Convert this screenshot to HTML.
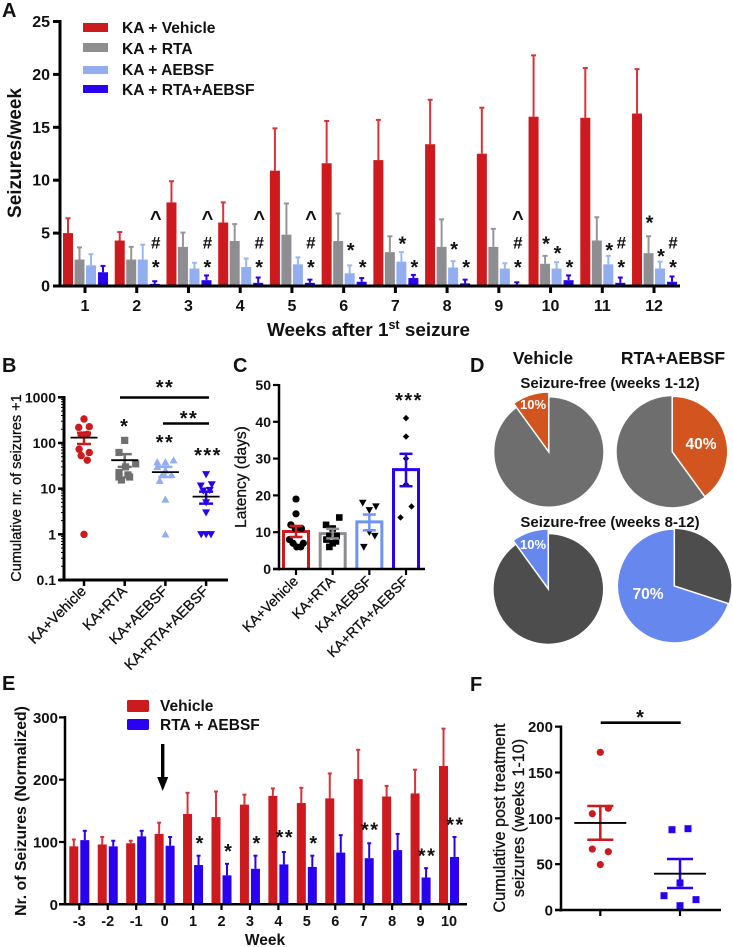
<!DOCTYPE html>
<html lang="en">
<head>
<meta charset="utf-8">
<title>Seizure figure panels</title>
<style>
html,body{margin:0;padding:0;background:#fff;}
svg{display:block;font-family:"Liberation Sans",Arial,sans-serif;}
text{fill:#111;}
.b{font-weight:bold;}
.m{stroke:#111;stroke-width:0.3;}
</style>
</head>
<body>
<svg id="fig" xmlns="http://www.w3.org/2000/svg" width="733" height="947" viewBox="0 0 733 947">
  <rect x="0" y="0" width="733" height="947" fill="#fff"/>
  <text class="b" x="2" y="17" font-size="20">A</text>
  <text class="b" x="2" y="372" font-size="20">B</text>
  <text class="b" x="233" y="372" font-size="20">C</text>
  <text class="b" x="470" y="372" font-size="20">D</text>
  <text class="b" x="2" y="690" font-size="20">E</text>
  <text class="b" x="470" y="691" font-size="20">F</text>

  <text class="b" transform="translate(21,153) rotate(-90)" text-anchor="middle" font-size="19">Seizures/week</text>
  <text class="b" x="267" y="336" font-size="18.9">Weeks after 1<tspan dy="-7" font-size="12.5">st</tspan><tspan dy="7"> seizure</tspan></text>

  <rect x="83" y="23" width="25" height="9" fill="#cc1a1e"/>
  <rect x="83" y="43" width="25" height="9" fill="#8e8e92"/>
  <rect x="83" y="66" width="25" height="8" fill="#92aef0"/>
  <rect x="83" y="85" width="25" height="8" fill="#2a00f0"/>
  <text class="b" x="122" y="33" font-size="15.6">KA + Vehicle</text>
  <text class="b" x="122" y="54" font-size="15.6">KA + RTA</text>
  <text class="b" x="122" y="75" font-size="15.6">KA + AEBSF</text>
  <text class="b" x="122" y="95" font-size="15.6">KA + RTA+AEBSF</text>

  <text class="m" transform="translate(21,488) rotate(-90)" text-anchor="middle" font-size="14.5">Cumulative nr. of seizures +1</text>
  <text class="m" transform="translate(246,477) rotate(-90)" text-anchor="middle" font-size="15.5">Latency (days)</text>

  <text class="b" x="543" y="364" text-anchor="middle" font-size="17.5">Vehicle</text>
  <text class="b" x="673" y="364" text-anchor="middle" font-size="17.5">RTA+AEBSF</text>
  <text class="b" x="610" y="388" text-anchor="middle" font-size="15">Seizure-free (weeks 1-12)</text>
  <text class="b" x="610" y="527" text-anchor="middle" font-size="15">Seizure-free (weeks 8-12)</text>

  <rect x="127" y="700" width="22" height="12" rx="1.5" fill="#cc1a1e"/>
  <rect x="127" y="719" width="22" height="11" rx="1.5" fill="#2a00f0"/>
  <text class="b" x="160" y="711" font-size="15.5">Vehicle</text>
  <text class="b" x="160" y="730" font-size="15.5">RTA + AEBSF</text>
  <g>
    <rect x="161" y="744" width="3.4" height="35" fill="#000"/>
    <polygon points="157.2,777 168.2,777 162.7,791" fill="#000"/>
  </g>
  <text class="b" transform="translate(26,811) rotate(-90)" text-anchor="middle" font-size="15.8">Nr. of Seizures (Normalized)</text>
  <text class="b" x="265" y="945" text-anchor="middle" font-size="15.5">Week</text>

  <text class="m" transform="translate(505,818) rotate(-90)" text-anchor="middle" font-size="16.2">Cumulative post treatment</text>
  <text class="m" transform="translate(524,818) rotate(-90)" text-anchor="middle" font-size="16.2">seizures (weeks 1-10)</text>
</svg>
<script>
// ---------- Panel A data ----------
const weeksA = ['1','2','3','4','5','6','7','8','9','10','11','12'];
const ticksA = [0,5,10,15,20,25];
const vehicleA = [5.0,4.3,7.9,6.0,10.9,11.6,11.9,13.4,12.5,16.0,15.9,16.3];
const vehicleTopA = [6.4,5.1,9.9,7.9,14.9,15.6,15.7,17.6,16.85,21.8,20.6,20.5];
const rtaA = [2.5,2.5,3.7,4.25,4.85,4.25,3.2,3.7,3.7,2.1,4.3,3.1];
const rtaTopA = [3.65,3.7,5.05,5.85,7.8,6.85,4.7,6.3,5.4,2.85,6.5,4.7];
const aebsfA = [1.95,2.5,1.65,1.8,2.05,1.2,2.3,1.75,1.65,1.65,2.05,1.65];
const aebsfTopA = [3.0,3.9,2.2,2.6,2.7,1.95,3.2,2.35,2.15,2.25,2.85,2.3];
const comboA = [1.3,0.2,0.55,0.3,0.3,0.4,0.75,0.25,0.15,0.55,0.3,0.4];
const comboTopA = [1.9,0.45,1.0,0.8,0.6,0.75,1.05,0.6,0.35,1.0,0.8,0.9];
// week index, series index, symbol, level in y-axis units
const marksA = [
 [1,3,'*',2.08],[1,3,'#',4.35],[1,3,'^',6.7],
 [2,3,'*',2.08],[2,3,'#',4.35],[2,3,'^',6.7],
 [3,3,'*',2.08],[3,3,'#',4.35],[3,3,'^',6.7],
 [4,3,'*',2.08],[4,3,'#',4.35],[4,3,'^',6.7],
 [5,2,'*',3.7],[5,3,'*',2.08],
 [6,2,'*',4.3],[6,3,'*',2.08],
 [7,2,'*',3.8],[7,3,'*',2.08],
 [8,3,'*',2.08],[8,3,'#',4.35],[8,3,'^',6.7],
 [9,1,'*',4.3],[9,2,'*',3.4],[9,3,'*',2.08],
 [10,2,'*',3.7],[10,3,'*',2.08],[10,3,'#',4.35],
 [11,1,'*',6.3],[11,2,'*',3.1],[11,3,'*',2.08],[11,3,'#',4.35]
];

// ---------- Panel B data ----------
const groupsB = ['KA+Vehicle','KA+RTA','KA+AEBSF','KA+RTA+AEBSF'];
const ticksB = [0.1,1,10,100,1000];
const tickLabelsB = ['0.1','1','10','100','1000'];
const vehicleB = [335,220,228,150,155,150,73,62,53,42,1];
const vehicleJitterB = [0,-0.13,0.13,-0.07,0.08,0,-0.12,0.13,-0.07,0.08,0];
const rtaB = [114,62,35,22.5,30,18,18,15.5,20];
const rtaJitterB = [0,-0.14,0.27,-0.14,0.02,-0.14,0.12,-0.08,0.08];
const aebsfB = [42,38,38,30,25,20,20,15,5.8,1];
const aebsfJitterB = [0.2,0,-0.2,-0.2,0,0.15,-0.08,-0.14,0,0];
const comboB = [20.6,11.6,12.4,9.3,9,5,3,1,1,1];
const comboJitterB = [0,-0.13,0.14,0.09,-0.07,0,0,-0.12,0,0.12];
const meanB = [131,42,23,6.7];
const semHighB = [168,57,30,8.6];
const semLowB = [95,30,18,4.7];

// ---------- Panel C data ----------
const ticksC = [0,10,20,30,40,50];
const meanC = [10.2,9.6,12.8,27];
const semHighC = [11.7,10.9,14.8,31.3];
const semLowC = [8.7,8.3,10.5,22.5];
const vehicleC = [19,15,12,11,11,8,7,6,6,7];
const vehicleJitterC = [0,0,-0.14,0.15,-0.02,-0.18,-0.08,0.02,0.13,0.2];
const rtaC = [14,12,11,9,9,8,7.5,6,7,9];
const rtaJitterC = [0.18,-0.18,0,0.11,-0.09,-0.17,0.09,-0.09,0,0];
const aebsfC = [18,17,16,10,9,6];
const aebsfJitterC = [-0.18,0.18,0,0,0.15,-0.15];
const comboC = [41,36,30,23,17,14];
const comboJitterC = [0,0,0,0,0.15,-0.15];

// ---------- Panel D data ----------
const pieVehicle12 = [10,90];
const pieCombo12 = [40,60];
const pieVehicle8 = [10,90];
const pieCombo8 = [70,30];

// ---------- Panel E data ----------
const weeksE = ['-3','-2','-1','0','1','2','3','4','5','6','7','8','9','10'];
const ticksE = [0,100,200,300];
const vehicleE = [93,96,98,113,145,140,160,174,162.5,170,201,173,178,222];
const vehicleTopE = [104,108,102,131,179,181,176,186,187,210,248,190,216,282];
const comboE = [103,93,109,94,63,46.5,57,64,60,83,74,87,43,76];
const comboTopE = [118,102,118,108,78,65,78,84,78,111,98,113,58,108];
const starsE = [[4,'*',103],[5,'*',90],[6,'*',103],[7,'**',113],[8,'*',103],[10,'**',125],[12,'**',83],[13,'**',133]];

// ---------- Panel F data ----------
const ticksF = [0,50,100,150,200];
const vehicleF = [172,111,105,66.5,63.6,49.5];
const vehicleJitterF = [0,0.2,-0.2,-0.2,0.2,0];
const comboF = [87.6,88.7,29.5,15.6,11.3,4.7];
const comboJitterF = [-0.2,0.2,0,-0.4,0.4,0];
const meanF = [95,39.6];
const semHighF = [113.5,55.6];
const semLowF = [76.7,24];

// ---------- Shared helpers ----------
const NS = 'http://www.w3.org/2000/svg';
const fig = document.getElementById('fig');
const RED = '#cc1a1e', GRAY = '#8e8e92', LIGHT = '#92aef0', BLUE = '#2a00f0';
function mk(tag, attrs, parent) {
  const el = document.createElementNS(NS, tag);
  for (const k in attrs) el.setAttribute(k, attrs[k]);
  (parent || fig).appendChild(el);
  return el;
}
function group(name) {
  const g = mk('g', {});
  
  
  return g;
}
function line(p, x1, y1, x2, y2, color, w) {
  const el = mk('line', {x1, y1, x2, y2, stroke: color, 'stroke-width': w}, p);
  
  
  return el;
}
function label(p, x, y, str, size, anchor, bold, rot) {
  const a = {x, y, 'font-size': size, 'text-anchor': anchor};
  if (bold) a['font-weight'] = 'bold';
  else a['class'] = 'm';
  if (rot) { delete a.x; delete a.y; a.transform = 'translate(' + x + ',' + y + ') rotate(' + rot + ')'; }
  const el = mk('text', a, p);
  el.textContent = str;
  
  
  return el;
}
function symbolText(p, x, cy, str, size, spacing) {
  const a = {x, y: cy + size * 0.5, 'font-size': size, 'font-weight': 'bold', 'text-anchor': 'middle'};
  if (spacing) a['letter-spacing'] = spacing;
  const el = mk('text', a, p);
  el.textContent = str;
  
  
  return el;
}
function marker(p, kind, x, y, s, color) {
  let el;
  if (kind === 'circle') el = mk('circle', {cx: x, cy: y, r: s, fill: color}, p);
  else if (kind === 'square') el = mk('rect', {x: x - s, y: y - s, width: 2 * s, height: 2 * s, fill: color}, p);
  else if (kind === 'up') el = mk('polygon', {points: x + ',' + (y - s) + ' ' + (x + s) + ',' + (y + s * 0.8) + ' ' + (x - s) + ',' + (y + s * 0.8), fill: color}, p);
  else if (kind === 'down') el = mk('polygon', {points: (x - s) + ',' + (y - s * 0.8) + ' ' + (x + s) + ',' + (y - s * 0.8) + ' ' + x + ',' + (y + s), fill: color}, p);
  else el = mk('polygon', {points: x + ',' + (y - s) + ' ' + (x + s) + ',' + y + ' ' + x + ',' + (y + s) + ' ' + (x - s) + ',' + y, fill: color}, p);
  
  
  return el;
}
function bar(p, cx, w, yTop, yBase, color) {
  const el = mk('rect', {x: cx - w / 2, y: yTop, width: w, height: Math.max(0, yBase - yTop), fill: color}, p);
  
  
  return el;
}
function upperError(p, cx, yMean, yTop, color, w, capW) {
  line(p, cx, yMean, cx, yTop, color, w);
  line(p, cx - capW / 2, yTop, cx + capW / 2, yTop, color, 2);
}

// ---------- Panel A ----------
(function () {
  const g = group('panel-a-bar-chart');
  const y = v => 286 - v * 10.58;
  const x = i => 85 + i * 51.73;
  const offs = [-17, -5.5, 6, 18];
  const series = [[vehicleA, vehicleTopA, RED, '#d8333a'], [rtaA, rtaTopA, GRAY, '#96969a'], [aebsfA, aebsfTopA, LIGHT, '#9db7f2'], [comboA, comboTopA, BLUE, BLUE]];
  series.forEach(function (s, si) {
    weeksA.forEach(function (w, i) {
      const cx = x(i) + offs[si];
      upperError(g, cx, y(s[0][i]), y(s[1][i]), s[3], 2, 5);
      bar(g, cx, 10, y(s[0][i]), 286, s[2]);
    });
  });
  line(g, 60, 20, 60, 287.5, '#000', 3);
  line(g, 53, 286, 680, 286, '#000', 3);
  ticksA.forEach(function (t) {
    line(g, 53, y(t), 60, y(t), '#000', 3);
    label(g, 50, y(t) + 5.5, String(t), 16, 'end', true);
  });
  weeksA.forEach(function (w, i) {
    line(g, x(i), 286, x(i), 293, '#000', 3);
    label(g, x(i), 311, w, 16, 'middle', true);
  });
  marksA.forEach(function (m) {
    const cx = x(m[0]) + offs[m[1]] + 1;
    symbolText(g, cx, y(m[3]), m[2], m[2] === '#' ? 17 : 20);
  });
})();

// ---------- Panel B ----------
(function () {
  const g = group('panel-b-scatter-plot');
  const y = v => 580 - (Math.log10(v) + 1) * 45.67;
  const x = i => 84 + i * 40.7;
  line(g, 64, 396, 64, 581.5, '#000', 3);
  line(g, 59, 580, 228, 580, '#000', 3);
  ticksB.forEach(function (t, i) {
    line(g, 58, y(t), 64, y(t), '#000', 2.5);
    label(g, 56, y(t) + 5, tickLabelsB[i], 14, 'end', true);
    if (i < ticksB.length - 1) {
      [2, 3, 4, 5, 6, 7, 8, 9].forEach(function (m) {
        line(g, 61, y(t * m), 64, y(t * m), '#000', 1);
      });
    }
  });
  groupsB.forEach(function (n, i) {
    line(g, x(i), 580, x(i), 586, '#000', 2.5);
    label(g, x(i) + 3, 592, n, 14.5, 'end', false, -45);
  });
  const sets = [[vehicleB, vehicleJitterB, 'circle', RED, 3.7], [rtaB, rtaJitterB, 'square', '#6f6f6f', 3.6], [aebsfB, aebsfJitterB, 'up', LIGHT, 4], [comboB, comboJitterB, 'down', BLUE, 4]];
  const semColor = [RED, '#6f6f6f', LIGHT, BLUE];
  sets.forEach(function (s, i) {
    s[0].forEach(function (v, j) {
      marker(g, s[2], x(i) + s[1][j] * 40.7, y(v), s[4], s[3]);
    });
    line(g, x(i), y(semLowB[i]), x(i), y(semHighB[i]), semColor[i], 2.5);
    line(g, x(i) - 7, y(semHighB[i]), x(i) + 7, y(semHighB[i]), semColor[i], 2.5);
    line(g, x(i) - 7, y(semLowB[i]), x(i) + 7, y(semLowB[i]), semColor[i], 2.5);
    line(g, x(i) - 13.5, y(meanB[i]), x(i) + 13.5, y(meanB[i]), '#000', 1.8);
  });
  line(g, 120, 397.5, 209, 397.5, '#000', 2.6);
  line(g, 163, 423.5, 209, 423.5, '#000', 2.6);
  symbolText(g, 165, 384, '**', 20, 1.5);
  symbolText(g, 189, 415, '**', 20, 1.5);
  symbolText(g, 124, 423, '*', 20);
  symbolText(g, 165, 439, '**', 20, 1.5);
  symbolText(g, 208, 452, '***', 20, 1.5);
})();

// ---------- Panel C ----------
(function () {
  const g = group('panel-c-bar-scatter');
  const y = v => 569 - v * 3.68;
  const x = i => 296 + i * 36.67;
  const outline = [RED, '#8e8e92', '#6e93f5', BLUE];
  meanC.forEach(function (m, i) {
    const el = mk('path', {d: 'M' + (x(i) - 12.5) + ' 569V' + y(m) + 'H' + (x(i) + 12.5) + 'V569', fill: 'none', stroke: outline[i], 'stroke-width': 3}, g);
    
    
  });
  const sets = [[vehicleC, vehicleJitterC, 'circle', 3.6], [rtaC, rtaJitterC, 'square', 3.3], [aebsfC, aebsfJitterC, 'down', 3.8], [comboC, comboJitterC, 'diamond', 3.2]];
  sets.forEach(function (s, i) {
    s[0].forEach(function (v, j) {
      marker(g, s[2], x(i) + s[1][j] * 36.67, y(v), s[3], '#000');
    });
    line(g, x(i), y(semLowC[i]), x(i), y(semHighC[i]), outline[i], 2.5);
    line(g, x(i) - 6.5, y(semHighC[i]), x(i) + 6.5, y(semHighC[i]), outline[i], 2.5);
    line(g, x(i) - 6.5, y(semLowC[i]), x(i) + 6.5, y(semLowC[i]), outline[i], 2.5);
  });
  line(g, 279, 384, 279, 570.5, '#000', 2.5);
  line(g, 273, 569, 425, 569, '#000', 2.5);
  ticksC.forEach(function (t) {
    line(g, 273, y(t), 279, y(t), '#000', 2.2);
    label(g, 271, y(t) + 5, String(t), 14, 'end', true);
  });
  groupsB.forEach(function (n, i) {
    line(g, x(i), 569, x(i), 575, '#000', 2.2);
    label(g, x(i) + 3, 582, n, 14, 'end', false, -45);
  });
  symbolText(g, 409, 397, '***', 20, 1.5);
})();

// ---------- Panel D ----------
(function () {
  const ORANGE = '#d2541e', PBLUE = '#6688ee', G1 = '#6e6e6e', G2 = '#4d4d4d';
  const slice = function (name, cx, cy, r, values, dir, color) {
    const total = values[0] + values[1];
    const g = group(name);
    const sweep = values[0] / total * 360 * dir;
    const x1 = cx + r * Math.sin(sweep * Math.PI / 180), y1 = cy - r * Math.cos(sweep * Math.PI / 180);
    const big = values[0] / total > 0.5 ? 1 : 0;
    const el = mk('path', {d: 'M' + cx + ' ' + cy + 'L' + cx + ' ' + (cy - r) + 'A' + r + ' ' + r + ' 0 ' + big + ' ' + (dir > 0 ? 1 : 0) + ' ' + x1 + ' ' + y1 + 'Z', fill: color, stroke: '#fff', 'stroke-width': 1.5}, g);
    
    
  };
  const body = function (name, cx, cy, r, color) {
    const el = mk('circle', {cx, cy, r, fill: color});
    
    
  };
  body('pie-vehicle-weeks-1-12-body', 548.8, 452, 54.5, G1);
  slice('pie-vehicle-weeks-1-12-slice', 548.8, 452, 60, pieVehicle12, -1, ORANGE);
  body('pie-combo-weeks-1-12-body', 672.2, 451.7, 55.5, G1);
  slice('pie-combo-weeks-1-12-slice', 672.2, 451.7, 55.5, pieCombo12, 1, ORANGE);
  body('pie-vehicle-weeks-8-12-body', 548.3, 589, 54.7, G2);
  slice('pie-vehicle-weeks-8-12-slice', 548.3, 589, 60, pieVehicle8, -1, PBLUE);
  body('pie-combo-weeks-8-12-body', 674.3, 586, 57, G2);
  slice('pie-combo-weeks-8-12-slice', 674.3, 586, 57, pieCombo8, -1, PBLUE);
  const pct = [[533, 409, pieVehicle12[0], 13], [701, 449, pieCombo12[0], 15.5], [533, 549, pieVehicle8[0], 13], [648, 599, pieCombo8[0], 15.5]];
  pct.forEach(function (p) {
    const t = mk('text', {x: p[0], y: p[1], 'text-anchor': 'middle', 'font-size': p[3], 'font-weight': 'bold', style: 'fill:#fff'});
    t.textContent = p[2] + '%';
    
    
  });
})();

// ---------- Panel E ----------
(function () {
  const g = group('panel-e-bar-chart');
  const y = v => 904.3 - v * 0.623;
  const x = i => 79.3 + i * 28.44;
  weeksE.forEach(function (w, i) {
    upperError(g, x(i) - 5.5, y(vehicleE[i]), y(vehicleTopE[i]), '#d8333a', 2, 4);
    bar(g, x(i) - 5.5, 9, y(vehicleE[i]), 904.3, RED);
    upperError(g, x(i) + 5.5, y(comboE[i]), y(comboTopE[i]), BLUE, 2, 4);
    bar(g, x(i) + 5.5, 9, y(comboE[i]), 904.3, BLUE);
  });
  line(g, 65, 716, 65, 905.5, '#000', 2.5);
  line(g, 59, 904.3, 467, 904.3, '#000', 2.5);
  ticksE.forEach(function (t) {
    line(g, 59, y(t), 65, y(t), '#000', 2.2);
    label(g, 58, y(t) + 5.5, String(t), 15, 'end', true);
  });
  weeksE.forEach(function (w, i) {
    line(g, x(i), 904.3, x(i), 910, '#000', 2.2);
    label(g, x(i), 926, w, 14.5, 'middle', true);
  });
  starsE.forEach(function (s) {
    symbolText(g, x(s[0]) + 6.5, y(s[2]), s[1], 20, s[1].length > 1 ? 1.5 : 0);
  });
})();

// ---------- Panel F ----------
(function () {
  const g = group('panel-f-scatter-plot');
  const y = v => 910 - v * 0.9167;
  const x = i => 600.3 + i * 79.7;
  const colors = [RED, BLUE];
  const sets = [[vehicleF, vehicleJitterF, 'circle', 3.6], [comboF, comboJitterF, 'square', 3.5]];
  sets.forEach(function (s, i) {
    s[0].forEach(function (v, j) {
      marker(g, s[2], x(i) + s[1][j] * 40, y(v), s[3], colors[i]);
    });
    line(g, x(i), y(semLowF[i]), x(i), y(semHighF[i]), colors[i], 2.5);
    line(g, x(i) - 13, y(semHighF[i]), x(i) + 13, y(semHighF[i]), colors[i], 2.5);
    line(g, x(i) - 13, y(semLowF[i]), x(i) + 13, y(semLowF[i]), colors[i], 2.5);
    line(g, x(i) - 26, y(meanF[i]), x(i) + 26, y(meanF[i]), '#000', 1.8);
  });
  line(g, 561, 725.5, 561, 911.5, '#000', 2.5);
  line(g, 555, 910, 721, 910, '#000', 2.5);
  ticksF.forEach(function (t) {
    line(g, 555, y(t), 561, y(t), '#000', 2.2);
    label(g, 553, y(t) + 5.5, String(t), 15, 'end', true);
  });
  [0, 1].forEach(function (i) {
    line(g, x(i), 910, x(i), 916, '#000', 2.2);
  });
  line(g, 600.7, 722.7, 680.7, 722.7, '#000', 2.6);
  symbolText(g, 640, 714, '*', 20);
})();
</script>
</body>
</html>
